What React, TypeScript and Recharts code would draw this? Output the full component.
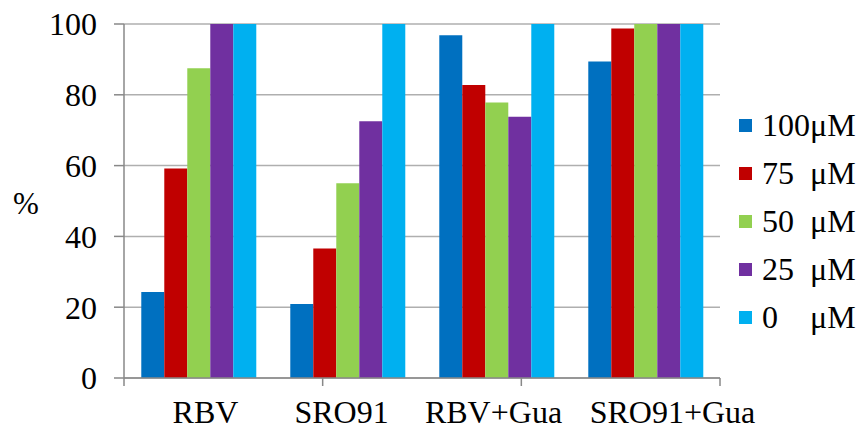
import React from 'react';
import { BarChart, Bar, XAxis, YAxis, CartesianGrid, Legend, Label } from 'recharts';

const categories = ['RBV', 'SRO91', 'RBV+Gua', 'SRO91+Gua'];
const s100 = [24.3, 20.9, 96.8, 89.4];
const s75 = [59.2, 36.6, 82.8, 98.7];
const s50 = [87.5, 55.0, 77.8, 100];
const s25 = [100, 72.5, 73.8, 100];
const s0 = [100, 100, 100, 100];
const legendNumbers = ['100', '75', '50', '25', '0'];
const unit = 'μM';
const yTicks = [0, 20, 40, 60, 80, 100];
const edgeTicks = [0, 1, 2, 3, 4];
// horizontal nudges of the category labels, as laid out in the original figure
const labelNudge = [7, -6, -3, 27];

const seriesKeys = ['s100', 's75', 's50', 's25', 's0'];
const colors = ['#0070C0', '#C00000', '#92D050', '#7030A0', '#00B0F0'];

const data = categories.map((c, i) => ({
  name: c,
  s100: s100[i],
  s75: s75[i],
  s50: s50[i],
  s25: s25[i],
  s0: s0[i],
}));

const FONT = '"Liberation Serif", "Times New Roman", serif';

const CatTick = (props: any) => {
  const { x, y, payload, index } = props;
  return (
    <text
      x={x + (labelNudge[index] || 0)}
      y={y}
      dy="0.71em"
      textAnchor="middle"
      fontFamily={FONT}
      fontSize={32}
      fill="#000"
    >
      {payload.value}
    </text>
  );
};

const renderLegend = () => (
  <div style={{ fontFamily: FONT, fontSize: 32, color: '#000' }}>
    {legendNumbers.map((n, i) => (
      <div key={n} style={{ display: 'flex', alignItems: 'center', height: 48, lineHeight: '48px' }}>
        <span style={{ display: 'inline-block', width: 13, height: 13, background: colors[i], marginRight: 10 }} />
        <span style={{ display: 'inline-block', width: 48 }}>{n}</span>
        <span>{unit}</span>
      </div>
    ))}
  </div>
);

export default function App() {
  return (
    <div style={{ position: 'fixed', left: 0, top: 0, background: '#fff' }}>
      <BarChart
        width={861}
        height={429}
        data={data}
        margin={{ top: 24, right: 19, bottom: 4, left: 60 }}
        barCategoryGap="11.6%"
        barGap={0}
      >
        <CartesianGrid vertical={false} stroke="#AFAFAF" strokeWidth={1.5} />
        <XAxis
          xAxisId="a"
          type="number"
          domain={[0, 4]}
          ticks={edgeTicks}
          tickFormatter={() => ''}
          height={1}
          tickSize={8}
          axisLine={{ stroke: '#888888', strokeWidth: 1.5 }}
          tickLine={{ stroke: '#888888', strokeWidth: 1.5 }}
        />
        <XAxis
          xAxisId="b"
          dataKey="name"
          height={46}
          axisLine={false}
          tickLine={false}
          interval={0}
          tick={<CatTick />}
          tickMargin={15}
        />
        <YAxis
          domain={[0, 100]}
          ticks={yTicks}
          interval={0}
          width={64}
          tickSize={10}
          tickMargin={17}
          axisLine={{ stroke: '#888888', strokeWidth: 1.5 }}
          tickLine={{ stroke: '#888888', strokeWidth: 1.5 }}
          tick={{ fontFamily: FONT, fontSize: 32, fill: '#000' }}
        >
          <Label
            value="%"
            position="insideLeft"
            offset={-34}
            dy={2}
            style={{ fontFamily: FONT, fontSize: 31, fill: '#000', textAnchor: 'middle' }}
          />
        </YAxis>
        {seriesKeys.map((k, i) => (
          <Bar key={k} dataKey={k} xAxisId="b" fill={colors[i]} isAnimationActive={false} />
        ))}
        <Legend
          content={renderLegend}
          layout="vertical"
          align="right"
          verticalAlign="middle"
          wrapperStyle={{ position: 'absolute', left: 739, top: 101, width: 122 }}
        />
      </BarChart>
    </div>
  );
}
